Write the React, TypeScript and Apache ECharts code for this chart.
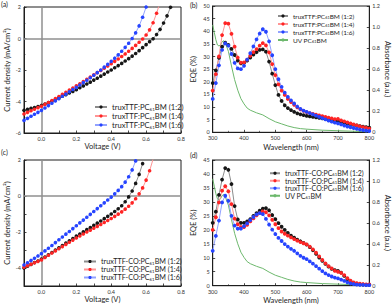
import React, { useEffect, useRef } from "react";
import * as echarts from "echarts";

// ---------- Data ----------
const voltage = [-0.10, -0.08, -0.06, -0.04, -0.02, 0.00, 0.02, 0.04, 0.06, 0.08, 0.10, 0.12, 0.14, 0.16, 0.18, 0.20, 0.22, 0.24, 0.26, 0.28, 0.30, 0.32, 0.34, 0.36, 0.38, 0.40, 0.42, 0.44, 0.46, 0.48, 0.50, 0.52, 0.54, 0.56, 0.58, 0.60, 0.62, 0.64, 0.66, 0.68, 0.70, 0.72, 0.74];

// (a) truxTTF:PC61BM current density (mA/cm2)
const jA12 = [-4.56, -4.50, -4.44, -4.38, -4.32, -4.25, -4.16, -4.07, -3.97, -3.87, -3.77, -3.67, -3.57, -3.46, -3.36, -3.25, -3.13, -3.01, -2.89, -2.77, -2.64, -2.52, -2.39, -2.26, -2.13, -2.00, -1.86, -1.72, -1.58, -1.43, -1.28, -1.12, -0.95, -0.77, -0.58, -0.39, -0.20, -0.02, 0.25, 0.58, 0.98, 1.44, 1.98];
const jA14 = [-4.79, -4.69, -4.59, -4.49, -4.39, -4.30, -4.18, -4.06, -3.94, -3.81, -3.68, -3.55, -3.42, -3.28, -3.14, -3.00, -2.87, -2.73, -2.59, -2.45, -2.31, -2.17, -2.03, -1.89, -1.75, -1.60, -1.45, -1.30, -1.14, -0.98, -0.81, -0.63, -0.44, -0.24, -0.03, 0.22, 0.55, 1.00, 1.60, 2.30];
const jA16 = [-5.20, -5.07, -4.94, -4.81, -4.69, -4.56, -4.41, -4.26, -4.11, -3.96, -3.82, -3.67, -3.53, -3.38, -3.24, -3.10, -2.95, -2.80, -2.65, -2.49, -2.33, -2.17, -2.00, -1.82, -1.64, -1.45, -1.25, -1.04, -0.81, -0.56, -0.30, 0.00, 0.36, 0.80, 1.35, 2.00];

// (c) truxTTF-CO:PC61BM current density (mA/cm2)
const jC12 = [-4.00, -3.90, -3.80, -3.70, -3.61, -3.51, -3.39, -3.27, -3.14, -3.01, -2.88, -2.75, -2.62, -2.49, -2.36, -2.23, -2.11, -1.99, -1.87, -1.75, -1.63, -1.51, -1.39, -1.26, -1.13, -1.00, -0.86, -0.71, -0.54, -0.32, -0.05, 0.28, 0.70, 1.20, 1.80];
const jC14 = [-3.95, -3.87, -3.79, -3.71, -3.63, -3.55, -3.42, -3.29, -3.17, -3.05, -2.93, -2.81, -2.69, -2.57, -2.45, -2.33, -2.22, -2.11, -2.00, -1.90, -1.79, -1.69, -1.58, -1.47, -1.36, -1.25, -1.13, -1.01, -0.88, -0.73, -0.57, -0.38, -0.15, 0.12, 0.45, 0.88, 1.40, 2.05];
const jC16 = [-3.83, -3.71, -3.58, -3.46, -3.33, -3.20, -3.05, -2.90, -2.75, -2.59, -2.43, -2.28, -2.12, -1.97, -1.81, -1.65, -1.49, -1.34, -1.18, -1.02, -0.86, -0.70, -0.54, -0.38, -0.22, -0.06, 0.12, 0.31, 0.52, 0.77, 1.07, 1.45, 1.95];

const wavelength = [300, 310, 320, 330, 340, 350, 360, 370, 380, 390, 400, 410, 420, 430, 440, 450, 460, 470, 480, 490, 500, 510, 520, 530, 540, 550, 560, 570, 580, 590, 600, 610, 620, 630, 640, 650, 660, 670, 680, 690, 700, 710, 720, 730, 740, 750, 760, 770, 780, 790, 800];

// (b) EQE (%) truxTTF:PC61BM
const eqeB12 = [19.5, 24.5, 29.5, 33.9, 35.5, 34.6, 33.0, 30.6, 28.4, 27.3, 27.5, 28.4, 29.6, 30.8, 31.7, 32.6, 32.8, 31.9, 28.0, 23.2, 18.7, 14.8, 12.4, 10.7, 9.6, 8.8, 8.1, 7.5, 7.1, 6.8, 6.5, 6.3, 6.1, 5.9, 5.7, 5.5, 5.3, 5.0, 4.8, 4.6, 4.4, 4.1, 3.8, 3.5, 3.2, 2.9, 2.7, 2.4, 2.2, 2.0, 1.8];
const eqeB14 = [16.5, 23.0, 30.0, 38.5, 43.2, 43.0, 39.0, 33.9, 29.6, 27.6, 27.7, 28.8, 30.3, 31.7, 32.9, 34.3, 35.3, 34.4, 31.6, 27.0, 22.6, 19.0, 16.5, 14.8, 13.2, 12.0, 10.9, 9.9, 9.1, 8.5, 8.0, 7.6, 7.3, 7.0, 6.7, 6.4, 6.1, 5.8, 5.5, 5.2, 5.3, 4.7, 4.3, 3.9, 3.5, 3.1, 2.7, 2.3, 2.0, 1.7, 1.4];
const eqeB16 = [13.2, 19.5, 26.5, 32.6, 35.2, 34.3, 31.0, 27.5, 25.3, 25.0, 26.3, 28.8, 31.3, 34.0, 36.8, 39.1, 40.8, 39.8, 36.0, 30.5, 25.0, 21.0, 18.0, 15.7, 14.0, 12.6, 11.4, 10.2, 9.3, 8.6, 8.1, 7.6, 7.1, 6.6, 6.1, 5.6, 5.1, 4.6, 4.2, 3.8, 3.5, 3.1, 2.7, 2.3, 2.0, 1.7, 1.4, 1.1, 0.9, 0.7, 0.5];

// (d) EQE (%) truxTTF-CO:PC61BM
const eqeD12 = [22.5, 26.5, 32.5, 38.0, 42.1, 41.5, 36.4, 28.5, 23.7, 22.5, 22.5, 23.0, 23.8, 25.0, 26.0, 26.9, 27.6, 27.8, 27.0, 25.3, 23.8, 22.4, 21.1, 20.0, 18.9, 17.9, 17.2, 16.5, 15.9, 15.3, 14.7, 13.8, 12.7, 11.4, 10.1, 8.9, 7.8, 6.8, 6.0, 5.6, 5.3, 4.7, 3.5, 2.4, 1.5, 1.0, 0.7, 0.5, 0.4, 0.3, 0.3];
const eqeD14 = [20.0, 24.5, 29.8, 34.0, 35.6, 33.8, 29.2, 24.0, 22.0, 21.0, 21.0, 21.8, 23.0, 24.1, 25.2, 26.0, 26.6, 26.3, 25.2, 23.6, 22.0, 20.6, 19.4, 18.6, 17.9, 17.3, 16.7, 16.1, 15.6, 15.2, 14.8, 14.0, 13.0, 11.8, 10.5, 9.2, 8.0, 7.0, 6.2, 5.3, 5.0, 4.6, 3.8, 2.7, 1.8, 1.2, 0.9, 0.7, 0.6, 0.5, 0.5];
const eqeD16 = [12.5, 17.8, 23.3, 29.8, 32.2, 30.4, 25.0, 21.5, 20.4, 20.4, 21.3, 22.3, 23.5, 24.6, 25.5, 26.0, 25.6, 23.9, 21.9, 20.1, 18.5, 17.1, 16.0, 14.9, 14.0, 13.2, 12.5, 11.6, 10.7, 10.0, 9.5, 8.7, 7.9, 7.0, 6.1, 5.2, 4.4, 3.8, 3.3, 2.9, 2.6, 2.2, 1.7, 1.2, 0.8, 0.6, 0.4, 0.3, 0.3, 0.2, 0.2];

// UV absorbance of PC61BM (a.u.)
const uvWave = [300, 305, 310, 315, 320, 325, 330, 335, 340, 350, 360, 370, 380, 390, 400, 410, 420, 440, 460, 480, 500, 520, 540, 560, 580, 600, 650, 700, 750, 800];
const uvAbs = [1.02, 0.95, 0.88, 0.83, 0.82, 0.83, 0.86, 0.87, 0.85, 0.77, 0.63, 0.50, 0.40, 0.32, 0.27, 0.23, 0.21, 0.185, 0.165, 0.13, 0.10, 0.08, 0.06, 0.045, 0.035, 0.03, 0.02, 0.015, 0.01, 0.005];

const namesA = ["truxTTF:PC61BM (1:2)", "truxTTF:PC61BM (1:4)", "truxTTF:PC61BM (1:6)"];
const namesC = ["truxTTF-CO:PC61BM (1:2)", "truxTTF-CO:PC61BM (1:4)", "truxTTF-CO:PC61BM (1:6)"];
const uvName = "UV PC61BM";

// ---------- Styles ----------
const FONT = "Lato";
const INK = "#1e1e1e";
const COLORS = ["#161616", "#ff2424", "#2644ff"];
const LINE_COLORS = ["#8c8c8c", "#ff9494", "#92a2ff"];
const GREEN = "#6db86d";

const zip = (xs: number[], ys: number[]) => ys.map((y, i) => [xs[i], y]);

function pts(name: string, xs: number[], ys: number[], xi: number, yi: number, k: number, size: number) {
  return {
    type: "line",
    name,
    xAxisIndex: xi,
    yAxisIndex: yi,
    data: zip(xs, ys),
    symbol: "circle",
    symbolSize: size,
    showSymbol: true,
    clip: true,
    z: 3,
    itemStyle: { color: COLORS[k] },
    lineStyle: { color: LINE_COLORS[k], width: 1 },
  };
}

function uvSeries(xi: number, yi: number) {
  return {
    type: "line",
    name: uvName,
    xAxisIndex: xi,
    yAxisIndex: yi,
    data: zip(uvWave, uvAbs),
    symbol: "none",
    showSymbol: false,
    z: 2,
    itemStyle: { color: GREEN },
    lineStyle: { color: GREEN, width: 1 },
  };
}

const axisBase = (gridIndex: number) => ({
  gridIndex,
  type: "value",
  nameLocation: "middle",
  nameTextStyle: { fontFamily: FONT, fontSize: 7.5, color: INK },
  axisLine: { show: true, onZero: false, lineStyle: { color: INK, width: 1 } },
  axisTick: { show: true, inside: true, length: 2.5, lineStyle: { color: INK, width: 0.8 } },
  splitLine: { show: false },
  axisLabel: { fontFamily: FONT, fontSize: 5.5, color: "#333", margin: 3 },
});

const legendRich = (fs: number, lh: number) => ({
  s: { fontFamily: FONT, fontSize: fs * 0.6, color: INK, lineHeight: lh, padding: [fs * 0.45, 0, 0, 0] },
});

const legendFmt = (n: string) => n.replace("PC61BM", "PC{s|61}BM");

function legend(data: string[], left: number, top: number, iw: number, fs: number, lh: number) {
  return {
    data,
    left,
    top,
    orient: "vertical",
    itemWidth: iw,
    itemHeight: 4,
    itemGap: 0,
    padding: 0,
    selectedMode: false,
    formatter: legendFmt,
    textStyle: { fontFamily: FONT, fontSize: fs, color: INK, lineHeight: lh, rich: legendRich(fs, lh) },
  };
}

const zeroLines = (xi: number, yi: number) => ({
  type: "line",
  name: "zero",
  xAxisIndex: xi,
  yAxisIndex: yi,
  data: [],
  z: 1,
  markLine: {
    silent: true,
    z: 1,
    symbol: ["none", "none"],
    label: { show: false },
    lineStyle: { color: "#8f8f8f", width: 1.5, type: "solid" },
    data: [{ xAxis: 0 }, { yAxis: 0 }],
  },
});

const vFmt = (v: number) => {
  const k = Math.round(v * 10);
  return k >= 0 && k % 2 === 0 ? v.toFixed(1) : "";
};
const absFmt = (v: number) => (v === 0 ? "0" : v.toFixed(1));

export default function App() {
  const ref = useRef<HTMLDivElement>(null);
  useEffect(() => {
    if (!ref.current) return;
    const chart = echarts.init(ref.current, undefined, { renderer: "svg" });
    const gridBase = { show: true, borderColor: INK, borderWidth: 1, backgroundColor: "transparent", containLabel: false, outerBoundsMode: "none" };
    chart.setOption({
      animation: false,
      backgroundColor: "#ffffff",
      textStyle: { fontFamily: FONT },
      grid: [
        { ...gridBase, left: 24, top: 7, width: 157, height: 126 },
        { ...gridBase, left: 212.7, top: 6, width: 156.6, height: 126.3 },
        { ...gridBase, left: 24, top: 160, width: 157, height: 126 },
        { ...gridBase, left: 212.7, top: 160, width: 156.6, height: 125.7 },
      ],
      xAxis: [
        { ...axisBase(0), name: "Voltage (V)", nameGap: 9, min: -0.1, max: 0.8, interval: 0.1, axisLabel: { ...axisBase(0).axisLabel, formatter: vFmt } },
        { ...axisBase(1), name: "Wavelength (nm)", nameGap: 11, min: 300, max: 800, interval: 100, minorTick: { show: true, splitNumber: 2, length: 1.5, lineStyle: { color: INK, width: 0.6 } } },
        { ...axisBase(2), name: "Voltage (V)", nameGap: 9, min: -0.1, max: 0.8, interval: 0.1, axisLabel: { ...axisBase(2).axisLabel, formatter: vFmt } },
        { ...axisBase(3), name: "Wavelength (nm)", nameGap: 11, min: 300, max: 800, interval: 100, minorTick: { show: true, splitNumber: 2, length: 1.5, lineStyle: { color: INK, width: 0.6 } } },
      ],
      yAxis: [
        { ...axisBase(0), name: "Current density (mA/cm²)", nameGap: 13, min: -6, max: 2, interval: 2, minorTick: { show: true, splitNumber: 2, length: 1.5, lineStyle: { color: INK, width: 0.6 } } },
        { ...axisBase(1), name: "EQE (%)", nameGap: 15, min: 0, max: 50, interval: 5 },
        { ...axisBase(1), position: "right", name: "Absorbance (a.u.)", nameGap: 13, nameRotate: -90, min: 0, max: 1.2, interval: 0.2, axisLabel: { ...axisBase(1).axisLabel, formatter: absFmt } },
        { ...axisBase(2), name: "Current density (mA/cm²)", nameGap: 13, min: -5, max: 2, interval: 1, axisLabel: { ...axisBase(2).axisLabel, formatter: (v: number) => (Math.round(v) % 2 === 0 ? String(Math.round(v)) : "") } },
        { ...axisBase(3), name: "EQE (%)", nameGap: 15, min: 0, max: 45, interval: 5 },
        { ...axisBase(3), position: "right", name: "Absorbance (a.u.)", nameGap: 13, nameRotate: -90, min: 0, max: 1.2, interval: 0.2, axisLabel: { ...axisBase(3).axisLabel, formatter: absFmt } },
      ],
      legend: [
        legend(namesA, 94, 102.5, 12, 7.6, 9),
        legend([...namesA, uvName], 277, 12, 10, 6.5, 8),
        legend(namesC, 83, 257.5, 12, 7.2, 8),
        legend([...namesC, uvName], 269, 169.5, 10, 7, 7.5),
      ],
      graphic: [
        { type: "text", x: 1, y: 4, style: { text: "(a)", fontFamily: FONT, fontSize: 7, fill: INK, verticalAlign: "middle" } },
        { type: "text", x: 190, y: 5, style: { text: "(b)", fontFamily: FONT, fontSize: 7, fill: INK, verticalAlign: "middle" } },
        { type: "text", x: 1, y: 152, style: { text: "(c)", fontFamily: FONT, fontSize: 7, fill: INK, verticalAlign: "middle" } },
        { type: "text", x: 190, y: 155, style: { text: "(d)", fontFamily: FONT, fontSize: 7, fill: INK, verticalAlign: "middle" } },
      ],
      series: [
        zeroLines(0, 0),
        pts(namesA[0], voltage, jA12, 0, 0, 0, 3.6),
        pts(namesA[1], voltage, jA14, 0, 0, 1, 3.6),
        pts(namesA[2], voltage, jA16, 0, 0, 2, 3.6),
        uvSeries(1, 2),
        pts(namesA[0], wavelength, eqeB12, 1, 1, 0, 3.8),
        pts(namesA[1], wavelength, eqeB14, 1, 1, 1, 3.8),
        pts(namesA[2], wavelength, eqeB16, 1, 1, 2, 3.8),
        zeroLines(2, 3),
        pts(namesC[0], voltage, jC12, 2, 3, 0, 3.6),
        pts(namesC[1], voltage, jC14, 2, 3, 1, 3.6),
        pts(namesC[2], voltage, jC16, 2, 3, 2, 3.6),
        uvSeries(3, 5),
        pts(namesC[0], wavelength, eqeD12, 3, 4, 0, 3.8),
        pts(namesC[1], wavelength, eqeD14, 3, 4, 1, 3.8),
        pts(namesC[2], wavelength, eqeD16, 3, 4, 2, 3.8),
      ],
    });
    return () => chart.dispose();
  }, []);
  return <div ref={ref} style={{ position: "absolute", left: 0, top: 0, width: 392, height: 308 }} />;
}
